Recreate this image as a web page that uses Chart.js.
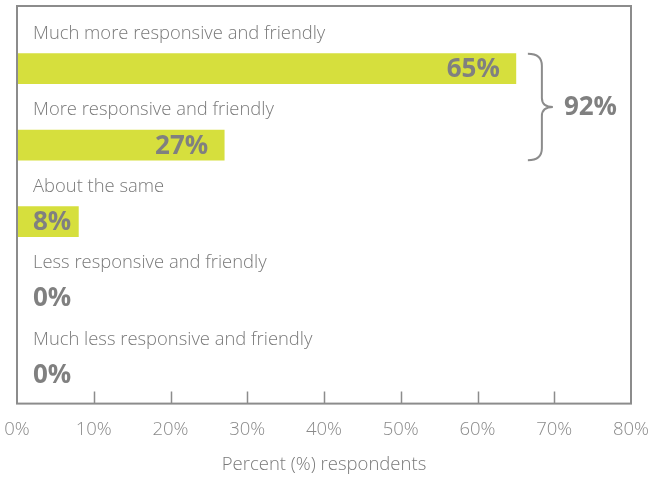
<!DOCTYPE html>
<html>
<head>
<meta charset="utf-8">
<script src="https://cdn.jsdelivr.net/npm/chart.js@4/dist/chart.umd.min.js"></script>
<style>
  html, body { margin: 0; padding: 0; background: #fff; }
  #wrap { width: 649px; height: 477px; }
</style>
</head>
<body>
<div id="wrap"><canvas id="responseChart"></canvas></div>
<script>
// survey answers, top to bottom
const categories = [
    'Much more responsive and friendly',
    'More responsive and friendly',
    'About the same',
    'Less responsive and friendly',
    'Much less responsive and friendly'
];
const percentValues = [65, 27, 8, 0, 0];
const tickValues = [0, 10, 20, 30, 40, 50, 60, 70, 80];
const bracedRows = [0, 1];   // rows summed by the curly brace

const barColor = '#d6df3d';
const frameColor = '#8c8c8c';
const labelColor = '#7a7a7a';
const valueColor = '#808080';
const fontFamily = '"Open Sans", Lato, sans-serif';

// frame, upward tick marks, row labels, value labels and brace
const annotatePlugin = {
    id: 'annotate',
    afterDatasetsDraw(chart) {
        const ctx = chart.ctx;
        const area = chart.chartArea;
        const xs = chart.scales.x;
        const ys = chart.scales.y;
        ctx.save();

        ctx.strokeStyle = frameColor;
        ctx.lineWidth = 2;
        ctx.strokeRect(area.left, area.top, area.right - area.left, area.bottom - area.top);

        ctx.beginPath();
        tickValues.slice(1, -1).forEach(v => {
            const px = Math.round(xs.getPixelForValue(v)) + 0.5;
            ctx.moveTo(px, area.bottom);
            ctx.lineTo(px, area.bottom - 12);
        });
        ctx.lineWidth = 1.5;
        ctx.stroke();

        const textX = area.left + 16;
        categories.forEach((name, i) => {
            ctx.font = '300 18.4px ' + fontFamily;
            ctx.fillStyle = labelColor;
            ctx.textAlign = 'left';
            ctx.textBaseline = 'middle';
            ctx.fillText(name, textX, ys.getPixelForValue(i - 0.46));

            const txt = percentValues[i] + '%';
            ctx.font = 'bold 26px ' + fontFamily;
            ctx.fillStyle = valueColor;
            ctx.textAlign = 'right';
            const w = ctx.measureText(txt).width;
            const right = Math.max(xs.getPixelForValue(percentValues[i]) - 16, textX + w);
            ctx.fillText(txt, right, ys.getPixelForValue(i) + 1);
        });

        // curly brace beside the two top rows
        const maxVal = Math.max(...bracedRows.map(i => percentValues[i]));
        const x0 = xs.getPixelForValue(maxVal) + 12;
        const xm = x0 + 14;
        const xt = x0 + 25;
        const y0 = ys.getPixelForValue(bracedRows[0]) - 15;
        const y1 = ys.getPixelForValue(bracedRows[bracedRows.length - 1]) + 15;
        const ymid = (y0 + y1) / 2;
        ctx.beginPath();
        ctx.moveTo(x0, y0);
        ctx.quadraticCurveTo(xm, y0, xm, y0 + 12);
        ctx.lineTo(xm, ymid - 9);
        ctx.quadraticCurveTo(xm, ymid, xt, ymid);
        ctx.quadraticCurveTo(xm, ymid, xm, ymid + 9);
        ctx.lineTo(xm, y1 - 12);
        ctx.quadraticCurveTo(xm, y1, x0, y1);
        ctx.strokeStyle = frameColor;
        ctx.lineWidth = 2;
        ctx.stroke();

        const total = bracedRows.reduce((s, i) => s + percentValues[i], 0);
        ctx.font = 'bold 26px ' + fontFamily;
        ctx.fillStyle = valueColor;
        ctx.textAlign = 'left';
        ctx.fillText(total + '%', xt + 11, ymid + 1);

        ctx.restore();
    }
};

const ctx = document.getElementById('responseChart').getContext('2d');
new Chart(ctx, {
    type: 'bar',
    data: {
        datasets: [{
            data: percentValues.map((v, i) => ({ x: v, y: i })),
            backgroundColor: barColor,
            borderWidth: 0,
            barThickness: 30
        }]
    },
    options: {
        indexAxis: 'y',
        responsive: true,
        maintainAspectRatio: false,
        animation: false,
        layout: { padding: { left: 17, right: 18, top: 6, bottom: 1 } },
        plugins: {
            legend: { display: false },
            tooltip: { enabled: false }
        },
        scales: {
            x: {
                type: 'linear',
                min: 0,
                max: 80,
                afterBuildTicks: axis => { axis.ticks = tickValues.map(v => ({ value: v })); },
                // end labels may hang over the frame; keep the plot edges fixed
                afterFit: axis => { axis.paddingLeft = 0; axis.paddingRight = 0; },
                grid: { display: false, drawTicks: false },
                border: { display: false },
                ticks: {
                    padding: 15,
                    color: '#8a8a8a',
                    font: { family: fontFamily, size: 18.5, weight: '300' },
                    callback: v => v + '%'
                },
                title: {
                    display: true,
                    text: 'Percent (%) respondents',
                    color: '#7a7a7a',
                    font: { family: fontFamily, size: 18.5, weight: '300' },
                    padding: { top: -2, bottom: 0 }
                }
            },
            y: {
                type: 'linear',
                min: -0.82,
                max: 4.38,
                reverse: true,
                offset: false,
                display: false
            }
        }
    },
    plugins: [annotatePlugin]
});
</script>
</body>
</html>
